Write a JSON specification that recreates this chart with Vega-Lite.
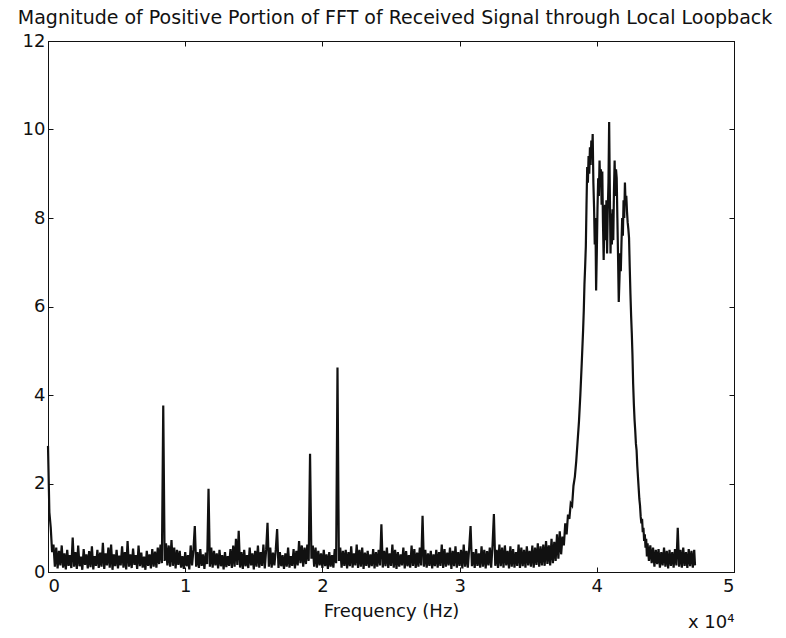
{
  "$schema": "https://vega.github.io/schema/vega-lite/v6.json",
  "width": 686,
  "height": 531,
  "autosize": {"type": "none"},
  "padding": {"left": 48, "top": 41, "right": 52, "bottom": 66},
  "background": "white",
  "title": {
    "text": "Magnitude of Positive Portion of FFT of Received Signal through Local Loopback",
    "font": "DejaVu Sans",
    "fontSize": 19,
    "fontWeight": "normal",
    "color": "#111111",
    "anchor": "middle",
    "baseline": "top",
    "offset": 4,
    "dx": 4
  },
  "data": {
    "values": [
      {"f":0,"m":2.85},{"f":100,"m":1.35},{"f":200,"m":1.0},{"f":300,"m":0.45},{"f":400,"m":0.62},{"f":500,"m":0.12},{"f":600,"m":0.55},{"f":700,"m":0.08},{"f":800,"m":0.48},{"f":900,"m":0.15},
      {"f":1000,"m":0.6},{"f":1100,"m":0.1},{"f":1200,"m":0.42},{"f":1300,"m":0.06},{"f":1400,"m":0.5},{"f":1500,"m":0.14},{"f":1600,"m":0.38},{"f":1700,"m":0.09},{"f":1800,"m":0.78},{"f":1900,"m":0.12},
      {"f":2000,"m":0.45},{"f":2100,"m":0.07},{"f":2200,"m":0.6},{"f":2300,"m":0.13},{"f":2400,"m":0.35},{"f":2500,"m":0.05},{"f":2600,"m":0.52},{"f":2700,"m":0.16},{"f":2800,"m":0.4},{"f":2900,"m":0.08},
      {"f":3000,"m":0.47},{"f":3100,"m":0.11},{"f":3200,"m":0.58},{"f":3300,"m":0.06},{"f":3400,"m":0.36},{"f":3500,"m":0.14},{"f":3600,"m":0.5},{"f":3700,"m":0.09},{"f":3800,"m":0.44},{"f":3900,"m":0.12},
      {"f":4000,"m":0.66},{"f":4100,"m":0.07},{"f":4200,"m":0.42},{"f":4300,"m":0.15},{"f":4400,"m":0.55},{"f":4500,"m":0.1},{"f":4600,"m":0.62},{"f":4700,"m":0.05},{"f":4800,"m":0.4},{"f":4900,"m":0.13},
      {"f":5000,"m":0.5},{"f":5100,"m":0.08},{"f":5200,"m":0.37},{"f":5300,"m":0.15},{"f":5400,"m":0.58},{"f":5500,"m":0.1},{"f":5600,"m":0.45},{"f":5700,"m":0.06},{"f":5800,"m":0.7},{"f":5900,"m":0.12},
      {"f":6000,"m":0.4},{"f":6100,"m":0.09},{"f":6200,"m":0.53},{"f":6300,"m":0.16},{"f":6400,"m":0.38},{"f":6500,"m":0.07},{"f":6600,"m":0.6},{"f":6700,"m":0.13},{"f":6800,"m":0.44},{"f":6900,"m":0.1},
      {"f":7000,"m":0.35},{"f":7100,"m":0.05},{"f":7200,"m":0.48},{"f":7300,"m":0.14},{"f":7400,"m":0.4},{"f":7500,"m":0.08},{"f":7600,"m":0.52},{"f":7700,"m":0.12},{"f":7800,"m":0.46},{"f":7900,"m":0.1},
      {"f":8000,"m":0.55},{"f":8100,"m":0.18},{"f":8200,"m":0.62},{"f":8300,"m":0.2},{"f":8400,"m":3.76},{"f":8500,"m":0.25},{"f":8600,"m":0.65},{"f":8700,"m":0.15},{"f":8800,"m":0.6},{"f":8900,"m":0.12},
      {"f":9000,"m":0.72},{"f":9100,"m":0.14},{"f":9200,"m":0.55},{"f":9300,"m":0.08},{"f":9400,"m":0.5},{"f":9500,"m":0.16},{"f":9600,"m":0.48},{"f":9700,"m":0.1},{"f":9800,"m":0.36},{"f":9900,"m":0.07},
      {"f":10000,"m":0.45},{"f":10100,"m":0.13},{"f":10200,"m":0.38},{"f":10300,"m":0.06},{"f":10400,"m":0.6},{"f":10500,"m":0.15},{"f":10600,"m":0.5},{"f":10700,"m":1.04},{"f":10800,"m":0.12},{"f":10900,"m":0.45},
      {"f":11000,"m":0.09},{"f":11100,"m":0.52},{"f":11200,"m":0.14},{"f":11300,"m":0.4},{"f":11400,"m":0.07},{"f":11500,"m":0.44},{"f":11600,"m":0.18},{"f":11700,"m":1.88},{"f":11800,"m":0.12},{"f":11900,"m":0.55},
      {"f":12000,"m":0.1},{"f":12100,"m":0.48},{"f":12200,"m":0.15},{"f":12300,"m":0.42},{"f":12400,"m":0.08},{"f":12500,"m":0.5},{"f":12600,"m":0.13},{"f":12700,"m":0.38},{"f":12800,"m":0.06},{"f":12900,"m":0.45},
      {"f":13000,"m":0.11},{"f":13100,"m":0.36},{"f":13200,"m":0.14},{"f":13300,"m":0.52},{"f":13400,"m":0.09},{"f":13500,"m":0.6},{"f":13600,"m":0.12},{"f":13700,"m":0.75},{"f":13800,"m":0.16},{"f":13900,"m":0.93},
      {"f":14000,"m":0.1},{"f":14100,"m":0.45},{"f":14200,"m":0.07},{"f":14300,"m":0.5},{"f":14400,"m":0.13},{"f":14500,"m":0.38},{"f":14600,"m":0.09},{"f":14700,"m":0.55},{"f":14800,"m":0.15},{"f":14900,"m":0.42},
      {"f":15000,"m":0.06},{"f":15100,"m":0.48},{"f":15200,"m":0.12},{"f":15300,"m":0.6},{"f":15400,"m":0.1},{"f":15500,"m":0.45},{"f":15600,"m":0.14},{"f":15700,"m":0.62},{"f":15800,"m":0.08},{"f":15900,"m":0.5},
      {"f":16000,"m":1.11},{"f":16100,"m":0.12},{"f":16200,"m":0.55},{"f":16300,"m":0.1},{"f":16400,"m":0.44},{"f":16500,"m":0.15},{"f":16600,"m":0.5},{"f":16700,"m":0.97},{"f":16800,"m":0.09},{"f":16900,"m":0.45},
      {"f":17000,"m":0.13},{"f":17100,"m":0.38},{"f":17200,"m":0.07},{"f":17300,"m":0.42},{"f":17400,"m":0.12},{"f":17500,"m":0.55},{"f":17600,"m":0.1},{"f":17700,"m":0.36},{"f":17800,"m":0.14},{"f":17900,"m":0.52},
      {"f":18000,"m":0.08},{"f":18100,"m":0.48},{"f":18200,"m":0.15},{"f":18300,"m":0.7},{"f":18400,"m":0.2},{"f":18500,"m":0.6},{"f":18600,"m":0.12},{"f":18700,"m":0.55},{"f":18800,"m":0.18},{"f":18900,"m":0.62},
      {"f":19000,"m":0.25},{"f":19100,"m":2.67},{"f":19200,"m":0.3},{"f":19300,"m":0.6},{"f":19400,"m":0.12},{"f":19500,"m":0.55},{"f":19600,"m":0.1},{"f":19700,"m":0.48},{"f":19800,"m":0.15},{"f":19900,"m":0.42},
      {"f":20000,"m":0.09},{"f":20100,"m":0.5},{"f":20200,"m":0.13},{"f":20300,"m":0.4},{"f":20400,"m":0.07},{"f":20500,"m":0.45},{"f":20600,"m":0.12},{"f":20700,"m":0.38},{"f":20800,"m":0.1},{"f":20900,"m":0.52},
      {"f":21000,"m":0.2},{"f":21100,"m":4.62},{"f":21200,"m":0.25},{"f":21300,"m":0.55},{"f":21400,"m":0.1},{"f":21500,"m":0.48},{"f":21600,"m":0.14},{"f":21700,"m":0.5},{"f":21800,"m":0.08},{"f":21900,"m":0.45},
      {"f":22000,"m":0.13},{"f":22100,"m":0.58},{"f":22200,"m":0.1},{"f":22300,"m":0.42},{"f":22400,"m":0.15},{"f":22500,"m":0.62},{"f":22600,"m":0.09},{"f":22700,"m":0.5},{"f":22800,"m":0.12},{"f":22900,"m":0.55},
      {"f":23000,"m":0.07},{"f":23100,"m":0.44},{"f":23200,"m":0.14},{"f":23300,"m":0.48},{"f":23400,"m":0.1},{"f":23500,"m":0.4},{"f":23600,"m":0.13},{"f":23700,"m":0.52},{"f":23800,"m":0.08},{"f":23900,"m":0.45},
      {"f":24000,"m":0.12},{"f":24100,"m":0.5},{"f":24200,"m":0.15},{"f":24300,"m":1.08},{"f":24400,"m":0.1},{"f":24500,"m":0.48},{"f":24600,"m":0.13},{"f":24700,"m":0.55},{"f":24800,"m":0.09},{"f":24900,"m":0.42},
      {"f":25000,"m":0.14},{"f":25100,"m":0.62},{"f":25200,"m":0.1},{"f":25300,"m":0.5},{"f":25400,"m":0.07},{"f":25500,"m":0.45},{"f":25600,"m":0.12},{"f":25700,"m":0.4},{"f":25800,"m":0.15},{"f":25900,"m":0.55},
      {"f":26000,"m":0.08},{"f":26100,"m":0.47},{"f":26200,"m":0.13},{"f":26300,"m":0.38},{"f":26400,"m":0.1},{"f":26500,"m":0.6},{"f":26600,"m":0.14},{"f":26700,"m":0.52},{"f":26800,"m":0.09},{"f":26900,"m":0.44},
      {"f":27000,"m":0.12},{"f":27100,"m":0.55},{"f":27200,"m":0.15},{"f":27300,"m":1.27},{"f":27400,"m":0.12},{"f":27500,"m":0.5},{"f":27600,"m":0.1},{"f":27700,"m":0.42},{"f":27800,"m":0.14},{"f":27900,"m":0.48},
      {"f":28000,"m":0.08},{"f":28100,"m":0.4},{"f":28200,"m":0.13},{"f":28300,"m":0.5},{"f":28400,"m":0.1},{"f":28500,"m":0.45},{"f":28600,"m":0.14},{"f":28700,"m":0.62},{"f":28800,"m":0.09},{"f":28900,"m":0.52},
      {"f":29000,"m":0.12},{"f":29100,"m":0.44},{"f":29200,"m":0.15},{"f":29300,"m":0.55},{"f":29400,"m":0.07},{"f":29500,"m":0.48},{"f":29600,"m":0.13},{"f":29700,"m":0.58},{"f":29800,"m":0.1},{"f":29900,"m":0.45},
      {"f":30000,"m":0.14},{"f":30100,"m":0.5},{"f":30200,"m":0.08},{"f":30300,"m":0.62},{"f":30400,"m":0.12},{"f":30500,"m":0.48},{"f":30600,"m":0.1},{"f":30700,"m":0.55},{"f":30800,"m":1.04},{"f":30900,"m":0.13},
      {"f":31000,"m":0.45},{"f":31100,"m":0.09},{"f":31200,"m":0.52},{"f":31300,"m":0.14},{"f":31400,"m":0.42},{"f":31500,"m":0.1},{"f":31600,"m":0.58},{"f":31700,"m":0.12},{"f":31800,"m":0.5},{"f":31900,"m":0.08},
      {"f":32000,"m":0.47},{"f":32100,"m":0.15},{"f":32200,"m":0.55},{"f":32300,"m":0.1},{"f":32400,"m":0.6},{"f":32500,"m":1.31},{"f":32600,"m":0.14},{"f":32700,"m":0.5},{"f":32800,"m":0.09},{"f":32900,"m":0.62},
      {"f":33000,"m":0.13},{"f":33100,"m":0.55},{"f":33200,"m":0.1},{"f":33300,"m":0.6},{"f":33400,"m":0.15},{"f":33500,"m":0.48},{"f":33600,"m":0.08},{"f":33700,"m":0.58},{"f":33800,"m":0.12},{"f":33900,"m":0.52},
      {"f":34000,"m":0.1},{"f":34100,"m":0.45},{"f":34200,"m":0.14},{"f":34300,"m":0.62},{"f":34400,"m":0.09},{"f":34500,"m":0.55},{"f":34600,"m":0.13},{"f":34700,"m":0.5},{"f":34800,"m":0.1},{"f":34900,"m":0.58},
      {"f":35000,"m":0.15},{"f":35100,"m":0.48},{"f":35200,"m":0.12},{"f":35300,"m":0.6},{"f":35400,"m":0.1},{"f":35500,"m":0.55},{"f":35600,"m":0.16},{"f":35700,"m":0.65},{"f":35800,"m":0.12},{"f":35900,"m":0.58},
      {"f":36000,"m":0.15},{"f":36100,"m":0.62},{"f":36200,"m":0.14},{"f":36300,"m":0.7},{"f":36400,"m":0.18},{"f":36500,"m":0.6},{"f":36600,"m":0.15},{"f":36700,"m":0.75},{"f":36800,"m":0.2},{"f":36900,"m":0.68},
      {"f":37000,"m":0.25},{"f":37100,"m":0.85},{"f":37200,"m":0.3},{"f":37300,"m":0.92},{"f":37400,"m":0.4},{"f":37500,"m":0.8},{"f":37600,"m":0.6},{"f":37700,"m":1.1},{"f":37800,"m":0.85},{"f":37900,"m":1.3},
      {"f":38000,"m":1.2},{"f":38100,"m":1.55},{"f":38200,"m":1.5},{"f":38300,"m":1.95},{"f":38400,"m":2.15},{"f":38500,"m":2.5},{"f":38600,"m":2.95},{"f":38700,"m":3.4},{"f":38800,"m":4.0},{"f":38900,"m":4.7},
      {"f":39000,"m":5.45},{"f":39050,"m":5.9},{"f":39100,"m":6.5},{"f":39150,"m":6.9},{"f":39200,"m":7.35},{"f":39250,"m":8.3},{"f":39300,"m":9.15},{"f":39350,"m":8.8},{"f":39400,"m":9.4},{"f":39450,"m":9.0},
      {"f":39500,"m":9.6},{"f":39550,"m":9.2},{"f":39600,"m":9.75},{"f":39650,"m":9.4},{"f":39700,"m":9.9},{"f":39750,"m":8.8},{"f":39800,"m":8.25},{"f":39850,"m":7.4},{"f":39900,"m":8.0},{"f":39950,"m":6.36},
      {"f":40000,"m":7.2},{"f":40050,"m":8.2},{"f":40100,"m":8.9},{"f":40150,"m":8.5},{"f":40200,"m":9.3},{"f":40250,"m":8.7},{"f":40300,"m":9.1},{"f":40350,"m":8.3},{"f":40400,"m":9.05},{"f":40450,"m":7.9},
      {"f":40500,"m":7.05},{"f":40550,"m":7.9},{"f":40600,"m":8.3},{"f":40650,"m":7.5},{"f":40700,"m":8.4},{"f":40750,"m":7.2},{"f":40800,"m":8.2},{"f":40850,"m":8.8},{"f":40900,"m":10.17},{"f":40950,"m":8.6},
      {"f":41000,"m":7.2},{"f":41050,"m":8.1},{"f":41100,"m":7.4},{"f":41150,"m":8.2},{"f":41200,"m":7.5},{"f":41250,"m":8.6},{"f":41300,"m":9.3},{"f":41350,"m":8.5},{"f":41400,"m":9.1},{"f":41450,"m":8.9},
      {"f":41500,"m":8.0},{"f":41550,"m":7.1},{"f":41600,"m":6.1},{"f":41650,"m":6.6},{"f":41700,"m":7.2},{"f":41750,"m":6.8},{"f":41800,"m":7.45},{"f":41850,"m":8.0},{"f":41900,"m":7.6},{"f":41950,"m":8.4},
      {"f":42000,"m":8.0},{"f":42050,"m":8.8},{"f":42100,"m":8.3},{"f":42150,"m":8.5},{"f":42200,"m":8.15},{"f":42250,"m":7.9},{"f":42300,"m":7.75},{"f":42350,"m":7.55},{"f":42400,"m":6.9},{"f":42450,"m":6.3},
      {"f":42500,"m":5.8},{"f":42550,"m":5.4},{"f":42600,"m":4.9},{"f":42650,"m":4.25},{"f":42700,"m":3.8},{"f":42750,"m":3.45},{"f":42800,"m":3.2},{"f":42850,"m":2.9},{"f":42900,"m":2.75},{"f":42950,"m":2.4},
      {"f":43000,"m":2.15},{"f":43050,"m":1.9},{"f":43100,"m":1.65},{"f":43150,"m":1.5},{"f":43200,"m":1.25},{"f":43250,"m":1.1},{"f":43300,"m":1.2},{"f":43350,"m":0.9},{"f":43400,"m":1.0},{"f":43450,"m":0.7},
      {"f":43500,"m":0.85},{"f":43550,"m":0.55},{"f":43600,"m":0.75},{"f":43650,"m":0.35},{"f":43700,"m":0.65},{"f":43800,"m":0.25},{"f":43900,"m":0.6},{"f":44000,"m":0.2},{"f":44100,"m":0.55},{"f":44200,"m":0.12},
      {"f":44300,"m":0.5},{"f":44400,"m":0.18},{"f":44500,"m":0.52},{"f":44600,"m":0.1},{"f":44700,"m":0.45},{"f":44800,"m":0.15},{"f":44900,"m":0.55},{"f":45000,"m":0.12},{"f":45100,"m":0.48},{"f":45200,"m":0.08},
      {"f":45300,"m":0.5},{"f":45400,"m":0.14},{"f":45500,"m":0.45},{"f":45600,"m":0.1},{"f":45700,"m":0.52},{"f":45800,"m":0.15},{"f":45900,"m":1.0},{"f":46000,"m":0.12},{"f":46100,"m":0.5},{"f":46200,"m":0.1},
      {"f":46300,"m":0.55},{"f":46400,"m":0.14},{"f":46500,"m":0.45},{"f":46600,"m":0.09},{"f":46700,"m":0.52},{"f":46800,"m":0.13},{"f":46900,"m":0.48},{"f":47000,"m":0.1},{"f":47100,"m":0.5},{"f":47160,"m":0.15}
    ]
  },
  "layer": [
    {
      "mark": {"type": "line", "color": "#111111", "strokeWidth": 2.2},
      "encoding": {
        "x": {
          "field": "f", "type": "quantitative",
          "scale": {"domain": [0, 50000], "nice": false, "zero": false},
          "axis": {
            "orient": "bottom",
            "values": [0, 10000, 20000, 30000, 40000, 50000],
            "labelExpr": "format(datum.value / 10000, 'd')",
            "title": "Frequency (Hz)",
            "tickSize": -5,
            "labelPadding": 10,
            "titlePadding": 7
          }
        },
        "y": {
          "field": "m", "type": "quantitative",
          "scale": {"domain": [0, 12], "nice": false},
          "axis": {
            "orient": "left",
            "values": [0, 2, 4, 6, 8, 10, 12],
            "title": null,
            "tickSize": -5,
            "labelPadding": 8
          }
        }
      }
    },
    {
      "mark": {"type": "line", "opacity": 0},
      "encoding": {
        "x": {
          "field": "f", "type": "quantitative",
          "axis": {"orient": "top", "values": [0, 10000, 20000, 30000, 40000, 50000], "labels": false, "title": null, "tickSize": -5}
        },
        "y": {
          "field": "m", "type": "quantitative",
          "axis": {"orient": "right", "values": [0, 2, 4, 6, 8, 10, 12], "labels": false, "title": null, "tickSize": -5}
        }
      }
    },
    {
      "mark": {"type": "line", "opacity": 0},
      "encoding": {
        "x": {
          "field": "f", "type": "quantitative",
          "axis": {"orient": "bottom", "labels": false, "ticks": false, "domain": false, "title": "x 10⁴", "titleAnchor": "end", "titlePadding": 41}
        },
        "y": {"field": "m", "type": "quantitative", "axis": null}
      }
    }
  ],
  "resolve": {"axis": {"x": "independent", "y": "independent"}},
  "config": {
    "view": {"stroke": "#111111", "strokeWidth": 1},
    "axis": {
      "grid": false,
      "domainColor": "#111111",
      "tickColor": "#111111",
      "labelFont": "DejaVu Sans",
      "labelFontSize": 18,
      "labelColor": "#111111",
      "titleFont": "DejaVu Sans",
      "titleFontSize": 18,
      "titleFontWeight": "normal",
      "titleColor": "#111111"
    }
  }
}
